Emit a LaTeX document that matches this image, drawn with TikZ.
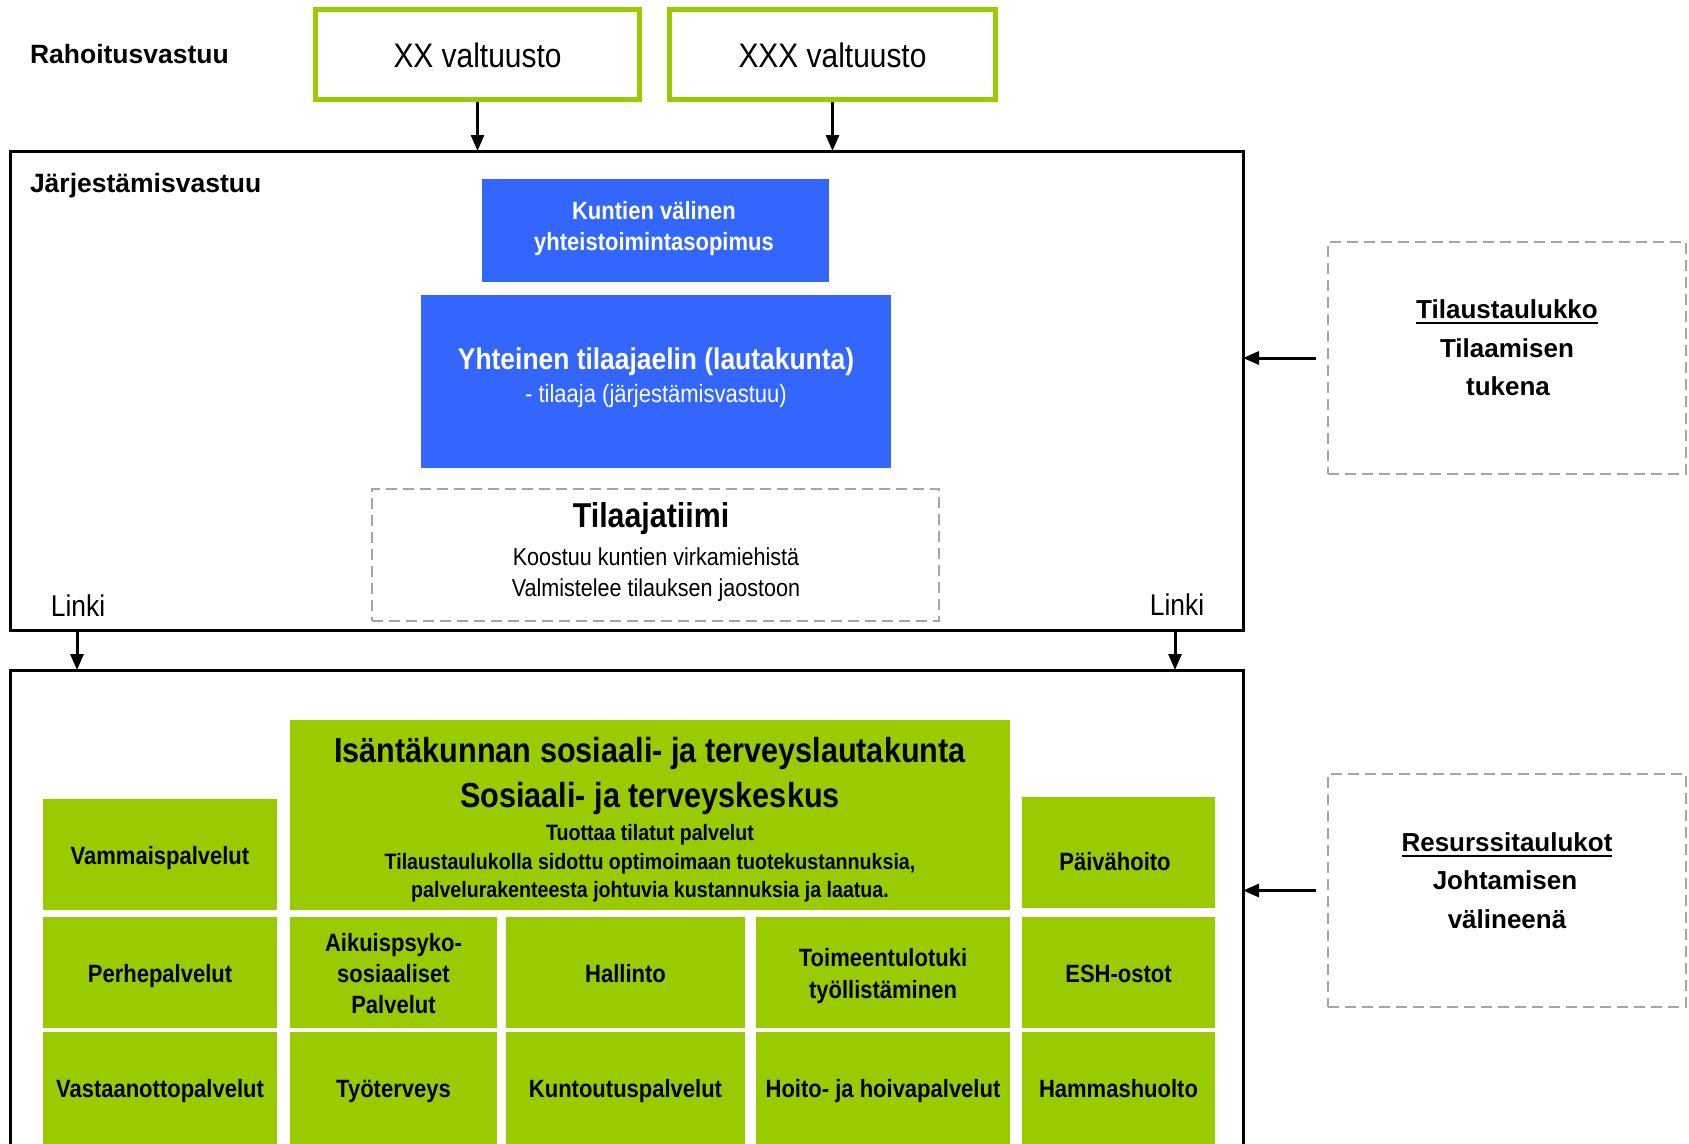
\documentclass[tikz,border=0pt]{standalone}
\usepackage{fontspec}
\setmainfont{Liberation Sans}
\newfontfamily\nar[FakeStretch=0.88]{Liberation Sans}
\usetikzlibrary{arrows.meta}
\definecolor{grn}{HTML}{99CC00}
\definecolor{blu}{HTML}{3366FF}
\definecolor{dgray}{HTML}{A5A5A5}
\newcommand{\fsz}[1]{\fontsize{#1}{#1}\selectfont}
\newcommand{\thul}[1]{\setbox0\hbox{#1}\rlap{\rule[-5.5pt]{\wd0}{2pt}}\box0}
\begin{document}
\begin{tikzpicture}[x=1pt,y=-1pt,
  every node/.style={inner sep=0pt, outer sep=0pt},
  valt/.style={draw=grn, line width=5pt, fill=white},
  bluebox/.style={fill=blu},
  gbox/.style={fill=grn},
  dbox/.style={draw=dgray, line width=2.5pt, dash pattern=on 11pt off 6pt},
  frame/.style={draw=black, line width=3pt},
  arr/.style={draw=black, line width=3pt, -{Triangle[length=16pt,width=13pt]}},
  lbl/.style={anchor=base west, font=\bfseries\fsz{26.5}},
  valtxt/.style={anchor=base, font=\nar\fsz{34}},
  bluetitle/.style={anchor=base, text=white, font=\nar\bfseries\fsz{25}},
  rtxt/.style={anchor=base, font=\bfseries\fsz{26}},
  cell/.style={anchor=base, font=\nar\bfseries\fsz{25}},
  bigtitle/.style={anchor=base, font=\nar\bfseries\fsz{34.8}},
  bigsmall/.style={anchor=base, font=\nar\bfseries\fsz{22.3}},
  plain/.style={anchor=base, font=\nar\fsz{24.5}},
  linktxt/.style={anchor=base, font=\nar\fsz{30}},
]
\useasboundingbox (0,0) rectangle (1689,1143);
\fill[white] (0,0) rectangle (1689,1143);

% --- Rahoitusvastuu ---
\node[lbl] (rah) at (30,63) {Rahoitusvastuu};
\node[valt, minimum width=324pt, minimum height=90pt] (xx) at (477.5,54.5) {};
\node[valt, minimum width=326pt, minimum height=90pt] (xxx) at (832.5,54.5) {};
\node[valtxt] (xxt) at (477.5,67) {XX valtuusto};
\node[valtxt] (xxxt) at (832.5,67) {XXX valtuusto};

% --- Järjestämisvastuu frame ---
\node[frame, minimum width=1233pt, minimum height=479pt] (f1) at (626.5,390.5) {};
\draw[arr, shorten <=2.5pt] (xx.south) -- (xx.south |- f1.north);
\draw[arr, shorten <=2.5pt] (xxx.south) -- (xxx.south |- f1.north);
\node[lbl] (jar) at (30,192) {Järjestämisvastuu};

\node[bluebox, minimum width=347pt, minimum height=103pt] (kv) at (655.5,230.5) {};
\node[bluetitle] (kv1) at (654,219) {Kuntien välinen};
\node[bluetitle] (kv2) at (654,250) {yhteistoimintasopimus};

\node[bluebox, minimum width=470pt, minimum height=173pt] (yt) at (656,381.5) {};
\node[anchor=base, text=white, font=\nar\bfseries\fsz{30}] (yt1) at (656,369) {Yhteinen tilaajaelin (lautakunta)};
\node[anchor=base, text=white, font=\nar\fsz{25}] (yt2) at (656,402) {- tilaaja (järjestämisvastuu)};

\node[dbox, minimum width=567pt, minimum height=132pt] (tt) at (655.5,555) {};
\node[anchor=base, font=\nar\bfseries\fsz{34.5}] (tt1) at (651,527) {Tilaajatiimi};
\node[plain] (tt2) at (656,565) {Koostuu kuntien virkamiehistä};
\node[plain] (tt3) at (656,596) {Valmistelee tilauksen jaostoon};

\node[linktxt] (lk1) at (78,616) {Linki};
\node[linktxt] (lk2) at (1177,615) {Linki};

% --- lower frame ---
\coordinate (f2bl) at (10,1150);
\coordinate (f2tl) at (10,670);
\coordinate (f2tr) at (1243,670);
\coordinate (f2br) at (1243,1150);
\draw[frame] (f2bl) -- (f2tl) -- (f2tr) -- (f2br);

\coordinate (l1a) at (77,630);
\coordinate (l1b) at (77,670);
\coordinate (l2a) at (1175,630);
\coordinate (l2b) at (1175,670);
\draw[arr] (l1a) -- (l1b);
\draw[arr] (l2a) -- (l2b);

% --- right side boxes ---
\node[dbox, minimum width=358pt, minimum height=232pt] (tau) at (1507,358) {};
\node[rtxt] (tau1) at (1507,318) {\thul{Tilaustaulukko}};
\node[rtxt] (tau2) at (1507,357) {Tilaamisen};
\node[rtxt] (tau3) at (1508,395) {tukena};
\draw[arr, shorten <=12pt] (tau.west) -- (tau.west -| f1.east);

\node[dbox, minimum width=358pt, minimum height=233pt] (res) at (1507,890.5) {};
\node[rtxt] (res1) at (1507,851) {\thul{Resurssitaulukot}};
\node[rtxt] (res2) at (1505,889) {Johtamisen};
\node[rtxt] (res3) at (1507,928) {välineenä};
\draw[arr, shorten <=12pt] (res.west) -- (res.west -| f2tr);

% --- green blocks ---
\node[gbox, minimum width=720pt, minimum height=190pt] (big) at (650,815) {};
\node[bigtitle] (big1) at (650,762) {Isäntäkunnan sosiaali- ja terveyslautakunta};
\node[bigtitle] (big2) at (650,807.5) {Sosiaali- ja terveyskeskus};
\node[bigsmall] (big3) at (650,840) {Tuottaa tilatut palvelut};
\node[bigsmall] (big4) at (650,869) {Tilaustaulukolla sidottu optimoimaan tuotekustannuksia,};
\node[bigsmall] (big5) at (650,897) {palvelurakenteesta johtuvia kustannuksia ja laatua.};

\node[gbox, minimum width=234pt, minimum height=111pt] (vam) at (160,854.5) {};
\node[cell] (vamt) at (160,864) {Vammaispalvelut};
\node[gbox, minimum width=193pt, minimum height=111pt] (pai) at (1118.5,852.5) {};
\node[cell] (pait) at (1115,870) {Päivähoito};

\node[gbox, minimum width=234pt, minimum height=111pt] (per) at (160,972.5) {};
\node[cell] (pert) at (160,982) {Perhepalvelut};
\node[gbox, minimum width=207pt, minimum height=111pt] (aik) at (393.5,972.5) {};
\node[cell] (aik1) at (393.5,951) {Aikuispsyko-};
\node[cell] (aik2) at (393.5,982.5) {sosiaaliset};
\node[cell] (aik3) at (393.5,1013) {Palvelut};
\node[gbox, minimum width=239pt, minimum height=111pt] (hal) at (625.5,972.5) {};
\node[cell] (halt) at (625.5,982) {Hallinto};
\node[gbox, minimum width=254pt, minimum height=111pt] (toi) at (883,972.5) {};
\node[cell] (toi1) at (883,966) {Toimeentulotuki};
\node[cell] (toi2) at (883,998) {työllistäminen};
\node[gbox, minimum width=193pt, minimum height=111pt] (esh) at (1118.5,972.5) {};
\node[cell] (esht) at (1118.5,982) {ESH-ostot};

\node[gbox, minimum width=234pt, minimum height=114pt] (vas) at (160,1089) {};
\node[cell] (vast) at (160,1097) {Vastaanottopalvelut};
\node[gbox, minimum width=207pt, minimum height=114pt] (tyo) at (393.5,1089) {};
\node[cell] (tyot) at (393.5,1097) {Työterveys};
\node[gbox, minimum width=239pt, minimum height=114pt] (kun) at (625.5,1089) {};
\node[cell] (kunt) at (625.5,1097) {Kuntoutuspalvelut};
\node[gbox, minimum width=254pt, minimum height=114pt] (hoi) at (883,1089) {};
\node[cell] (hoit) at (883,1097) {Hoito- ja hoivapalvelut};
\node[gbox, minimum width=193pt, minimum height=114pt] (ham) at (1118.5,1089) {};
\node[cell] (hamt) at (1118.5,1097) {Hammashuolto};
\end{tikzpicture}
\end{document}
